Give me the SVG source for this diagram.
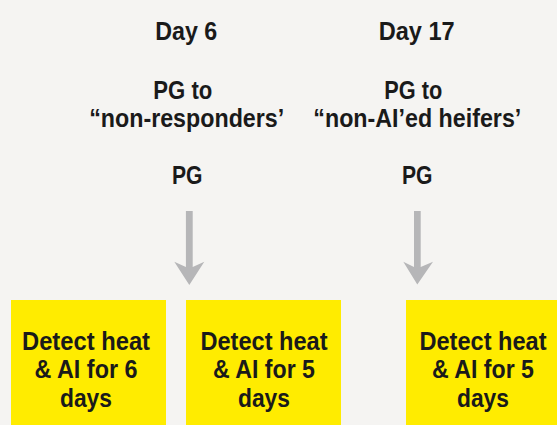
<svg xmlns="http://www.w3.org/2000/svg" width="557" height="425" viewBox="0 0 557 425">
  <defs>
    <style>
      .t { font-family: "Liberation Sans", Arial, sans-serif; font-weight: bold; fill: #1a1a1a; text-anchor: middle; }
      .h { font-size: 26.5px; }
      .b { font-size: 25.5px; }
      .box { fill: #ffec00; }
      .arrow { fill: #b6b6b8; }
    </style>
    <path id="arrowShape" d="M -3.4 0 H 3.4 V 266 L 15 262 L 0 285 L -15 262 L -3.4 266 Z"/>
  </defs>
  <rect width="557" height="425" fill="#f5f4f2"/>

  <g id="day6-labels">
    <text class="t h" x="186.3" y="40" textLength="62" lengthAdjust="spacingAndGlyphs">Day 6</text>
    <text class="t h" x="182.8" y="98.7" textLength="59" lengthAdjust="spacingAndGlyphs">PG to</text>
    <text class="t h" x="186.7" y="127" textLength="195" lengthAdjust="spacingAndGlyphs">“non-responders’</text>
    <text class="t h" x="187.2" y="184" textLength="30.5" lengthAdjust="spacingAndGlyphs">PG</text>
  </g>

  <g id="day17-labels">
    <text class="t h" x="416.7" y="40" textLength="76" lengthAdjust="spacingAndGlyphs">Day 17</text>
    <text class="t h" x="413.3" y="98.7" textLength="58" lengthAdjust="spacingAndGlyphs">PG to</text>
    <text class="t h" x="417.3" y="127" textLength="208" lengthAdjust="spacingAndGlyphs">“non-AI’ed heifers’</text>
    <text class="t h" x="417.2" y="184" textLength="30.5" lengthAdjust="spacingAndGlyphs">PG</text>
  </g>

  <g id="connectors">
    <path class="arrow" d="M 185.9 211 H 192.7 V 267 L 204.3 261.7 L 189.3 285 L 174.3 261.7 L 185.9 267 Z"/>
    <path class="arrow" d="M 414 211 H 420.7 V 267 L 433 261.7 L 417.3 284.5 L 403.3 261.7 L 414 267 Z"/>
  </g>

  <g id="box1">
    <rect class="box" x="11" y="300" width="155" height="130"/>
    <text class="t b" x="86" y="349.5" textLength="128" lengthAdjust="spacingAndGlyphs">Detect heat</text>
    <text class="t b" x="86" y="378" textLength="103" lengthAdjust="spacingAndGlyphs">&amp; AI for 6</text>
    <text class="t b" x="86" y="407" textLength="52" lengthAdjust="spacingAndGlyphs">days</text>
  </g>

  <g id="box2">
    <rect class="box" x="186" y="300" width="155" height="130"/>
    <text class="t b" x="264" y="349.5" textLength="127" lengthAdjust="spacingAndGlyphs">Detect heat</text>
    <text class="t b" x="264" y="378" textLength="102" lengthAdjust="spacingAndGlyphs">&amp; AI for 5</text>
    <text class="t b" x="264" y="407" textLength="52" lengthAdjust="spacingAndGlyphs">days</text>
  </g>

  <g id="box3">
    <rect class="box" x="406" y="300" width="155" height="130"/>
    <text class="t b" x="483" y="349.5" textLength="127" lengthAdjust="spacingAndGlyphs">Detect heat</text>
    <text class="t b" x="483" y="378" textLength="102" lengthAdjust="spacingAndGlyphs">&amp; AI for 5</text>
    <text class="t b" x="483" y="407" textLength="52" lengthAdjust="spacingAndGlyphs">days</text>
  </g>
</svg>
